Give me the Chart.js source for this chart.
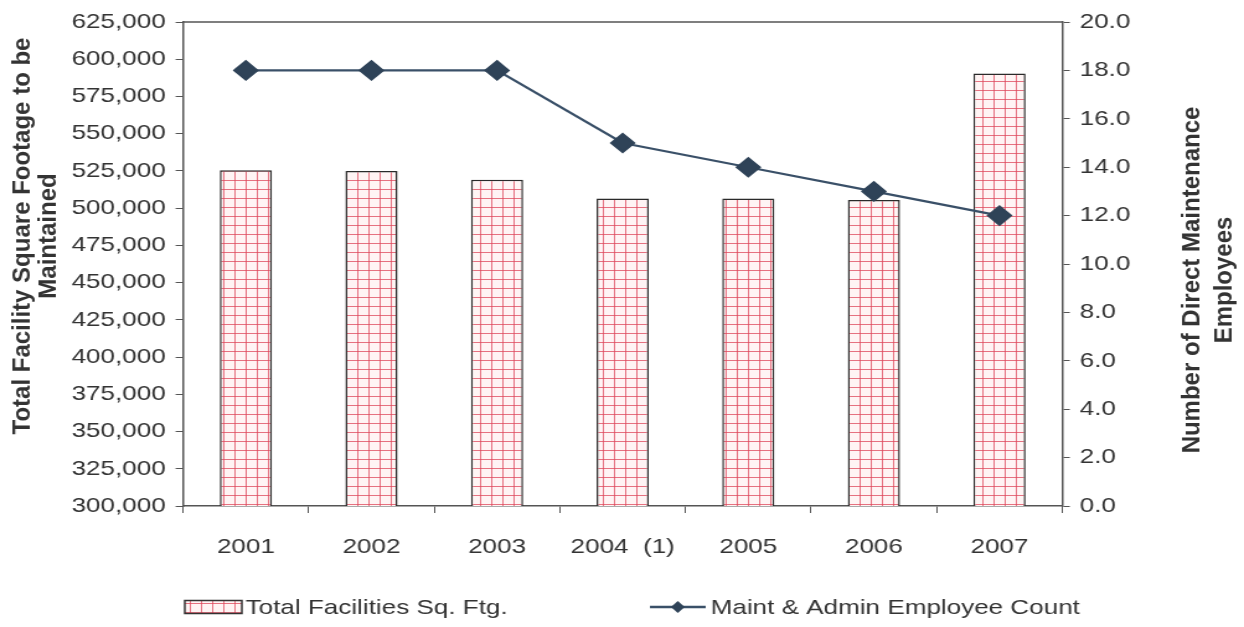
<!DOCTYPE html>
<html>
<head>
<meta charset="utf-8">
<script src="https://cdn.jsdelivr.net/npm/chart.js@4/dist/chart.umd.min.js"></script>
<style>
  html, body { margin: 0; padding: 0; background: #fff; overflow: hidden; }
  /* the chart is laid out at 1003px and widened to the 1244px page */
  #wrap { position: relative; width: 1003px; height: 627px; transform: scaleX(1.24028); transform-origin: 0 0; }
</style>
</head>
<body>
<div id="wrap"><canvas id="c"></canvas></div>
<script>
// ---- data ----
const years = ['2001', '2002', '2003', '2004  (1)', '2005', '2006', '2007'];
const squareFootage = [525500, 525000, 519000, 506500, 506500, 505500, 590500];
const employeeCount = [18, 18, 18, 15, 14, 13, 12];
const leftTitle = ['Total Facility Square Footage to be', 'Maintained'];
const rightTitle = ['Number of Direct Maintenance', 'Employees'];
const barLabel = 'Total Facilities Sq. Ftg.';
const lineLabel = 'Maint & Admin Employee Count';

const STRETCH = 1.24028;
const FONT = '"Liberation Sans", Arial, sans-serif';
const TEXT = '#333';
const AXIS = '#555';
const LINE = '#3a5068';

const canvas = document.getElementById('c');
const ctx = canvas.getContext('2d');

// small red grid fill used by the bars
function gridPattern() {
  const t = document.createElement('canvas');
  t.width = 9; t.height = 9;
  const g = t.getContext('2d');
  g.fillStyle = '#fff4f4';
  g.fillRect(0, 0, 9, 9);
  g.fillStyle = 'rgba(222,70,90,0.75)';
  g.fillRect(0, 0, 1, 9);
  g.fillRect(0, 0, 9, 1);
  return ctx.createPattern(t, 'repeat');
}
const pattern = gridPattern();

// frame top line, axis titles and the legend row
const decor = {
  id: 'decor',
  afterDraw(chart) {
    const c = chart.ctx;
    const a = chart.chartArea;
    c.save();
    c.strokeStyle = AXIS;
    c.lineWidth = 1.5;
    c.beginPath();
    c.moveTo(a.left, a.top);
    c.lineTo(a.right, a.top);
    c.stroke();

    // vertical titles are drawn without the page's horizontal widening
    c.fillStyle = TEXT;
    c.font = 'bold 24px ' + FONT;
    c.textAlign = 'center';
    c.textBaseline = 'middle';
    const rot = (lines, xs, yc) => {
      lines.forEach((s, i) => {
        c.save();
        c.translate(xs[i], yc);
        c.scale(1 / STRETCH, 1);
        c.rotate(-Math.PI / 2);
        c.fillText(s, 0, 0);
        c.restore();
      });
    };
    rot(leftTitle, [19, 40], 236);
    rot(rightTitle, [962, 988], 280);

    // legend
    const bars = chart.data.datasets.find(d => d.type === 'bar');
    const line = chart.data.datasets.find(d => d.type === 'line');
    const ly = 607;
    c.font = '21px ' + FONT;
    c.textAlign = 'left';
    c.fillStyle = bars.backgroundColor;
    c.fillRect(149, ly - 6.5, 46, 13);
    c.strokeStyle = '#333';
    c.lineWidth = 1.5;
    c.strokeRect(149, ly - 6.5, 46, 13);
    c.fillStyle = TEXT;
    c.fillText(bars.label, 198, ly + 1);

    c.strokeStyle = line.borderColor;
    c.lineWidth = 2.5;
    c.beginPath();
    c.moveTo(524, ly);
    c.lineTo(569, ly);
    c.stroke();
    c.fillStyle = line.pointBackgroundColor;
    c.beginPath();
    c.moveTo(546.5, ly - 6);
    c.lineTo(552, ly);
    c.lineTo(546.5, ly + 6);
    c.lineTo(541, ly);
    c.closePath();
    c.fill();
    c.fillStyle = TEXT;
    c.fillText(line.label, 573, ly + 1);
    c.restore();
  }
};

new Chart(canvas, {
  data: {
    labels: years,
    datasets: [
      {
        type: 'line',
        label: lineLabel,
        data: employeeCount,
        yAxisID: 'y1',
        borderColor: LINE,
        borderWidth: 2.2,
        pointStyle: 'rectRot',
        pointRadius: 9,
        pointBackgroundColor: '#2f4358',
        pointBorderColor: '#2f4358',
        tension: 0,
        order: 0
      },
      {
        type: 'bar',
        label: barLabel,
        data: squareFootage,
        yAxisID: 'y',
        backgroundColor: pattern,
        borderColor: '#2a2a2a',
        borderWidth: 1.5,
        borderSkipped: false,
        categoryPercentage: 1,
        barPercentage: 0.415,
        order: 1
      }
    ]
  },
  options: {
    responsive: true,
    maintainAspectRatio: false,
    animation: false,
    layout: { padding: { top: 22, left: 0, right: 0, bottom: 0 } },
    plugins: { legend: { display: false }, tooltip: { enabled: false } },
    scales: {
      x: {
        offset: true,
        afterFit: s => { s.height = 121; },
        grid: { offset: true, drawOnChartArea: false, drawTicks: true, tickLength: 7, color: AXIS, lineWidth: 1 },
        border: { display: true, color: AXIS, width: 1.5 },
        ticks: { color: TEXT, font: { family: FONT, size: 21 }, padding: 22, maxRotation: 0 }
      },
      y: {
        position: 'left',
        min: 300000,
        max: 625000,
        afterFit: s => { s.width = 147.6; },
        grid: { drawOnChartArea: false, drawTicks: true, tickLength: 6, color: AXIS },
        border: { display: true, color: AXIS, width: 1.5 },
        ticks: {
          stepSize: 25000,
          color: TEXT,
          padding: 8,
          font: { family: FONT, size: 21 },
          callback: v => v.toLocaleString('en-US')
        }
      },
      y1: {
        position: 'right',
        min: 0,
        max: 20,
        afterFit: s => { s.width = 146.5; },
        grid: { drawOnChartArea: false, drawTicks: true, tickLength: 6, color: AXIS },
        border: { display: true, color: AXIS, width: 1.5 },
        ticks: {
          stepSize: 2,
          color: TEXT,
          padding: 8,
          font: { family: FONT, size: 21 },
          callback: v => v.toFixed(1)
        }
      }
    }
  },
  plugins: [decor]
});
</script>
</body>
</html>
